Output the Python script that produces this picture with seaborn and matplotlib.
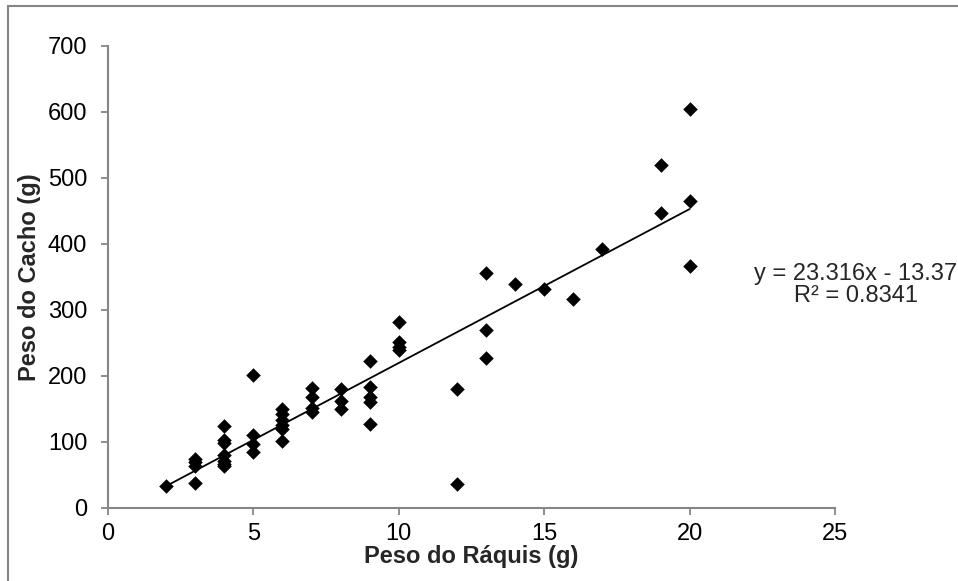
import numpy as np
import pandas as pd
import matplotlib
matplotlib.use('Agg')
import matplotlib.pyplot as plt
import seaborn as sns
from matplotlib.patches import Rectangle

# Data
raquis = [2,
          3, 3, 3, 3,
          4, 4, 4, 4, 4, 4, 4,
          5, 5, 5, 5,
          6, 6, 6, 6, 6, 6,
          7, 7, 7, 7,
          8, 8, 8,
          9, 9, 9, 9, 9,
          10, 10, 10, 10,
          12, 12,
          13, 13, 13,
          14, 15, 16, 17,
          19, 19,
          20, 20, 20]
cacho = [33,
         75, 69, 63, 38,
         125, 103, 99, 80, 71, 66, 63,
         202, 110, 97, 85,
         150, 142, 133, 126, 120, 101,
         182, 168, 152, 146,
         180, 162, 150,
         222, 184, 168, 160, 127,
         282, 252, 244, 240,
         180, 37,
         356, 269, 227,
         340, 332, 316, 393,
         447, 519,
         605, 465, 367]

# Excel trendline reported on the chart
slope = 23.316
intercept = -13.37
r2 = 0.8341

x_ticks = [0, 5, 10, 15, 20, 25]
y_ticks = [0, 100, 200, 300, 400, 500, 600, 700]

df = pd.DataFrame({'raquis': raquis, 'cacho': cacho})

sns.set_style('white')
plt.rcParams['font.family'] = ['Liberation Sans', 'DejaVu Sans']

fig = plt.figure(figsize=(9.58, 5.81), dpi=100)
ax = fig.add_axes([108 / 958, 1 - 508 / 581, (835 - 108) / 958, (508 - 46) / 581])

sns.scatterplot(data=df, x='raquis', y='cacho', marker='D', s=55,
                color='black', edgecolor='black', linewidth=0, ax=ax, zorder=3)

# Linear trendline over the data range
xl = np.array([min(raquis), max(raquis)])
ax.plot(xl, slope * xl + intercept, color='black', linewidth=1.3, zorder=2)

ax.text(25.72, 338, f'y = {slope}x - {abs(intercept)}\nR² = {r2}',
        ha='center', va='center', multialignment='center',
        fontsize=17, clip_on=False, linespacing=1.0)

ax.set_xlim(0, 25)
ax.set_ylim(0, 700)
ax.set_xticks(x_ticks)
ax.set_yticks(y_ticks)

axis_gray = '#868686'
for side in ['top', 'right']:
    ax.spines[side].set_visible(False)
for side in ['left', 'bottom']:
    ax.spines[side].set_color(axis_gray)
    ax.spines[side].set_linewidth(1.5)

ax.tick_params(axis='both', direction='out', length=5, width=1.3,
               color=axis_gray, labelsize=17, labelcolor='black',
               left=True, bottom=True)
ax.tick_params(axis='y', pad=10)
ax.tick_params(axis='x', pad=6)

ax.set_xlabel('Peso do Ráquis (g)', fontsize=17, fontweight='bold', labelpad=0)
ax.set_ylabel('Peso do Cacho (g)', fontsize=17, fontweight='bold', labelpad=5)

# Chart area border (Excel style)
fig.patches.append(Rectangle((8 / 958, -0.05), 1.2, 1 - 6 / 581 + 0.05,
                             transform=fig.transFigure, fill=False,
                             edgecolor=axis_gray, linewidth=1.5))

fig.savefig('out.png', dpi=100)
